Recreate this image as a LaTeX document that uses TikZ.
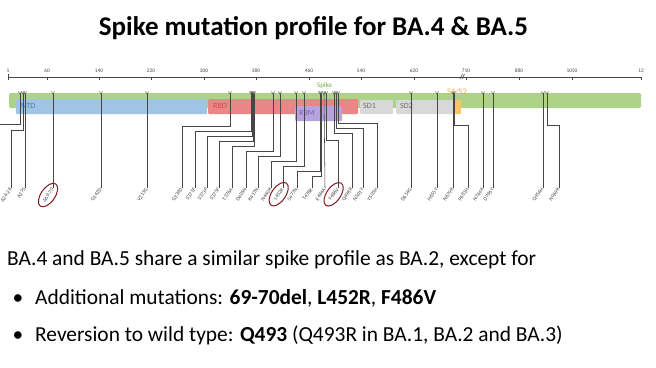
\documentclass[tikz,border=0pt]{standalone}
\usepackage{fontspec}
\setmainfont{Carlito}
\usetikzlibrary{shapes.geometric}
\definecolor{spikegreen}{RGB}{172,211,135}
\definecolor{ntdblue}{RGB}{160,196,228}
\definecolor{rbdred}{RGB}{236,134,134}
\definecolor{rbmpurple}{RGB}{183,164,222}
\definecolor{sdgrey}{RGB}{216,216,216}
\definecolor{s12orange}{RGB}{248,196,100}
\definecolor{linegrey}{RGB}{70,70,70}
\definecolor{circred}{RGB}{130,25,35}
\tikzset{
  axisline/.style={draw=linegrey, line width=0.7pt},
  ticklbl/.style={font=\fontsize{5.3}{6}\selectfont, text=linegrey, inner sep=0pt},
  mutline/.style={draw=linegrey, line width=0.55pt},
  mutmark/.style={draw=linegrey, line width=0.45pt},
  mutlbl/.style={font=\fontsize{5.4}{6}\selectfont, text=linegrey, rotate=55, anchor=east, inner sep=0.6pt},
  circ/.style={ellipse, draw=circred, line width=1pt, rotate=55, minimum width=27pt, minimum height=14pt},
  domlbl/.style={font=\fontsize{8}{9}\selectfont, inner sep=0pt, anchor=west},
  bodytxt/.style={font=\fontsize{21.4}{24}\selectfont, inner sep=0pt},
}
\begin{document}
\begin{tikzpicture}[x=1pt,y=-1pt]
\useasboundingbox (0,0) rectangle (656,367);
\fill[white] (0,0) rectangle (656,367);
% title
\node[font=\bfseries\fontsize{27}{32}\selectfont, anchor=base, inner sep=0pt] (title) at (313.5,35) {Spike mutation profile for BA.4 \& BA.5};
% axis
\draw[axisline] (8,77) -- (641,77);
\draw[axisline] (8,74) -- (8,80);
\foreach \x/\t [count=\i] in {8/1,47/60,99/140,151/220,204/300,256/380,309/460,361/540,414/620,466/710,519/880,572/1050,641/12}{
  \draw[axisline] (\x,77) -- (\x,80);
  \node[ticklbl] (tk\i) at (\x,70.5) {\t};
}
\draw[linegrey, line width=0.6pt] (460,79) -- (462.5,74) (462,79) -- (464.5,74);
% bars
\fill[spikegreen, rounded corners=1.5pt] (9,93) rectangle (641,108);
\fill[ntdblue, rounded corners=1pt] (16,99) rectangle (207,114);
\fill[rbdred, rounded corners=1pt] (208,99) rectangle (358,114);
\fill[sdgrey, rounded corners=1pt] (360,100) rectangle (393,114);
\fill[sdgrey, rounded corners=1pt] (396,100) rectangle (455,114);
\fill[s12orange, rounded corners=1pt] (455,100) rectangle (461,114);
\fill[rbmpurple, rounded corners=1pt] (295,106) rectangle (342,121);
\node[domlbl, text={rgb,255:red,70;green,120;blue,190}] (ntd) at (21,106) {NTD};
\node[domlbl, text={rgb,255:red,215;green,75;blue,75}] (rbd) at (213,105.5) {RBD};
\node[domlbl, text={rgb,255:red,120;green,95;blue,175}] (rbm) at (299,113) {RBM};
\node[domlbl, text={rgb,255:red,110;green,110;blue,110}] (sd1) at (363,106) {SD1};
\node[domlbl, text={rgb,255:red,110;green,110;blue,110}] (sd2) at (400,106) {SD2};
\node[domlbl, font=\fontsize{8.5}{9}\selectfont, text={rgb,255:red,240;green,170;blue,70}] (s1s2) at (447,92) {S1/S2};
\node[domlbl, font=\fontsize{7}{8}\selectfont, text={rgb,255:red,120;green,170;blue,80}] (spk) at (317,85.5) {Spike};
% mutations: markers
\foreach \n/\mx in {a/20,b/23,c/25,d/53,e/101,f/147,g/230,h/251,i/252,j/253,k/254,l/273,m/280,n/296,o/304,p/320,q/321,r/324,s/326,t/334,u/336,v/338,w/411,x/437,y/453,z/454,A/483,B/493,C/543,D/547}{
  \coordinate (m\n) at (\mx,94);
  \draw[mutmark] (\mx-1.6,91.5) -- (\mx,94) -- (\mx+1.6,91.5);
}
% T19I leaves the picture on the left
\coordinate (offleft) at (0,124);
\draw[mutline] (ma) -- (20,124) -- (offleft);
% straight connectors
\foreach \n/\lx/\t in {c/25/A27S,d/53/Δ69-70,e/101/G142D,f/147/V213G,r/325/E484A,w/411/D614G,x/437/H655Y,y/453/N679K,A/483/N764K,B/493/D796Y,C/543/Q954H}{
  \node[mutlbl] (l\n) at (\lx,188) {\t};
  \draw[mutline] (m\n) -- (l\n.east);
}
% routed connectors
\foreach \n/\mx/\lv/\lx/\t in {b/23/130/11/Δ24-26,g/230/126/182/G339D,h/251/131/195/S371F,i/252/136/207/S373P,j/253/141/219/S375F,k/254/146/232/T376A,l/273/151/246/D405N,m/280/156/258/K417N,n/296/161/271/N440K,o/304/166/283/L452R,p/320/171/297/S477N,q/321/176/312/T478K,s/326/140/338/F486V,t/334/133/352/Q498R,u/336/128/363/N501Y,v/338/123/377/Y505H,z/454/125/468/P681H,D/547/125/559/N969K}{
  \node[mutlbl] (l\n) at (\lx,188) {\t};
  \draw[mutline] (m\n) -- (\mx,\lv) -- (\lx,\lv) -- (l\n.east);
}
% circled mutations
\node[circ] (c1) at (ld.center) {};
\node[circ] (c2) at (lo.center) {};
\node[circ] (c3) at (ls.center) {};
% text
\node[bodytxt, anchor=base west] (line1) at (7,265) {BA.4 and BA.5 share a similar spike profile as BA.2, except for};
\node[bodytxt, anchor=base west] (b1) at (35,304) {Additional mutations: \textbf{69-70del}, \textbf{L452R}, \textbf{F486V}};
\node[bodytxt, anchor=base west] (b2) at (35,341) {Reversion to wild type: \textbf{Q493} (Q493R in BA.1, BA.2 and BA.3)};
\node[bodytxt, anchor=base] (d1) at (18,304) {•};
\node[bodytxt, anchor=base] (d2) at (18,341) {•};
\end{tikzpicture}
\end{document}
